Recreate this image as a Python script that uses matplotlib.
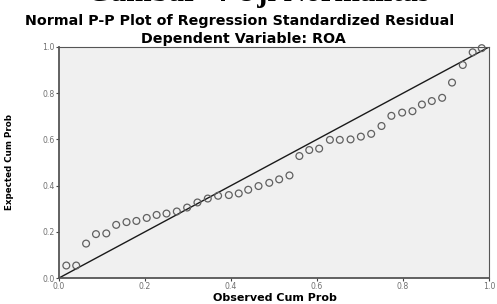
import matplotlib
matplotlib.use("Agg")
import matplotlib.pyplot as plt

# observed cumulative probability (x) and expected cumulative probability (y)
observed = [0.017, 0.040, 0.063, 0.086, 0.110, 0.133, 0.157, 0.180, 0.204, 0.227,
            0.250, 0.274, 0.298, 0.322, 0.346, 0.370, 0.395, 0.418, 0.440, 0.464,
            0.489, 0.512, 0.536, 0.559, 0.582, 0.605, 0.630, 0.653, 0.678, 0.702,
            0.726, 0.750, 0.773, 0.798, 0.822, 0.844, 0.867, 0.891, 0.914, 0.939,
            0.962, 0.983]
expected = [0.054, 0.054, 0.149, 0.190, 0.193, 0.230, 0.242, 0.247, 0.260, 0.273,
            0.279, 0.288, 0.305, 0.327, 0.344, 0.356, 0.359, 0.366, 0.382, 0.398,
            0.412, 0.427, 0.444, 0.528, 0.554, 0.560, 0.598, 0.598, 0.600, 0.612,
            0.624, 0.658, 0.702, 0.716, 0.722, 0.751, 0.766, 0.780, 0.846, 0.922,
            0.977, 0.995]
ticks = [0.0, 0.2, 0.4, 0.6, 0.8, 1.0]
tick_labels = ["0.0", "0.2", "0.4", "0.6", "0.8", "1.0"]

fig = plt.figure(figsize=(4.97, 3.04), dpi=100)
ax = fig.add_axes([59 / 497, 1 - 278 / 304, 430 / 497, 231 / 304])
ax.set_facecolor("#f0f0f0")

ax.plot([0, 1], [0, 1], color="#1a1a1a", linewidth=1.0, zorder=2)
ax.scatter(observed, expected, s=24, facecolors="none", edgecolors="#606060",
           linewidths=0.9, zorder=3, clip_on=False)

ax.set_xlim(0, 1)
ax.set_ylim(0, 1)
ax.set_xticks(ticks)
ax.set_xticklabels(tick_labels)
ax.set_yticks(ticks)
ax.set_yticklabels(tick_labels)
ax.tick_params(axis="both", direction="out", length=2.5, width=0.8, color="#444444",
               labelsize=5.6, labelcolor="#707070", pad=0.6)
for side in ["left", "bottom", "right", "top"]:
    ax.spines[side].set_color("#555555")
ax.spines["left"].set_linewidth(1.3)
ax.spines["bottom"].set_linewidth(1.3)
ax.spines["right"].set_linewidth(0.8)
ax.spines["top"].set_linewidth(0.8)

# axis titles
fig.text(275 / 497, 1 - 298 / 304, "Observed Cum Prob", ha="center", va="center",
         fontsize=8, fontweight="bold", family="DejaVu Sans")
fig.text(10 / 497, 1 - 162 / 304, "Expected Cum Prob", ha="center", va="center",
         rotation=90, fontsize=6.3, fontweight="bold", family="Liberation Sans Narrow")

# heading cut off by the top edge of the picture
fig.text(0.52, 1 - 8 / 304, "Gambar  4 Uji Normalitas", ha="center", va="bottom",
         fontsize=22, fontweight="bold", family="Liberation Serif")
fig.text(240 / 497, 1 - 21 / 304, "Normal P-P Plot of Regression Standardized Residual",
         ha="center", va="center", fontsize=10.3, fontweight="bold", family="DejaVu Sans")
fig.text(243 / 497, 1 - 39 / 304, "Dependent Variable: ROA", ha="center", va="center",
         fontsize=10.3, fontweight="bold", family="DejaVu Sans")

fig.savefig("out.png", dpi=100)
